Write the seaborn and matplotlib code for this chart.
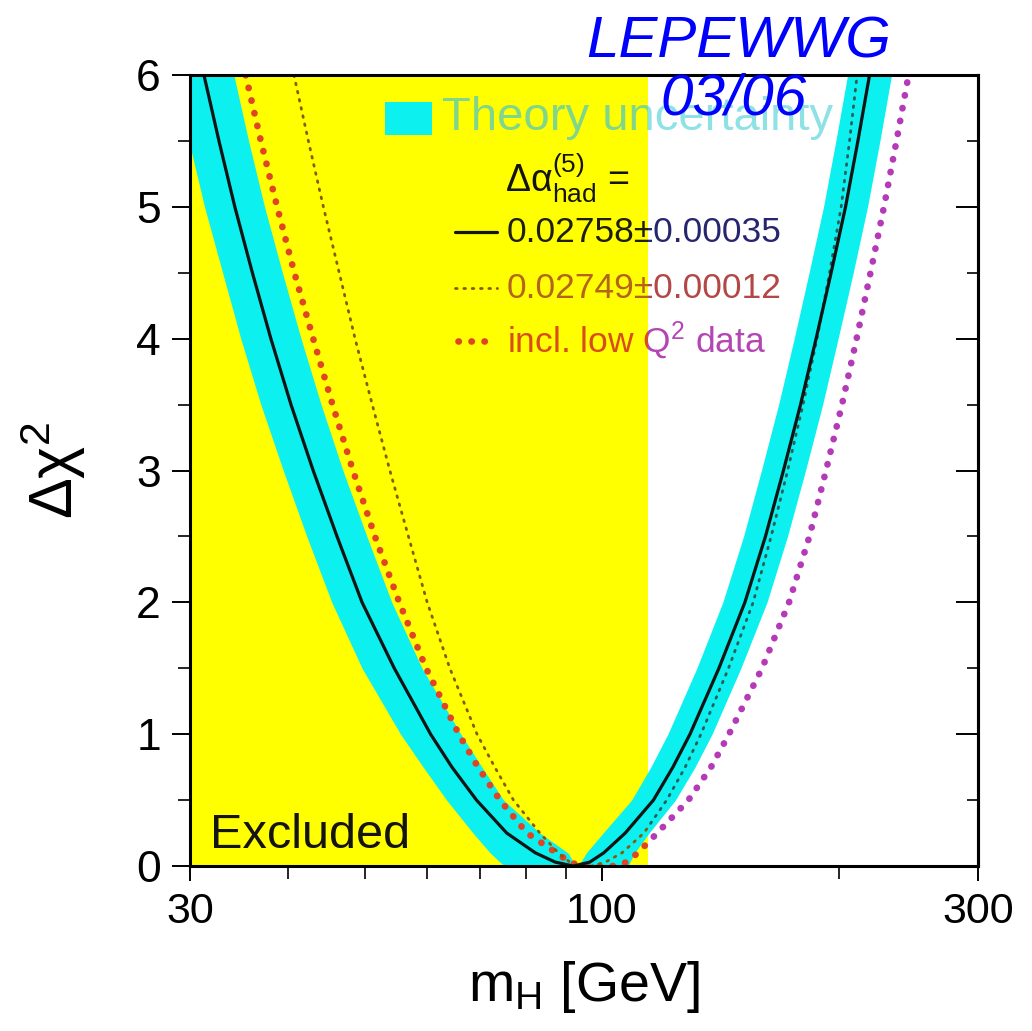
import matplotlib

matplotlib.use("Agg")
import matplotlib.pyplot as plt
import pandas as pd
import seaborn as sns
from matplotlib.patches import Rectangle
from matplotlib.ticker import FixedFormatter, FixedLocator, MultipleLocator, NullFormatter

chi2_levels = [0, 0.03, 0.1, 0.25, 0.5, 0.75, 1, 1.5, 2, 2.5, 3, 3.5, 4, 4.5, 5, 5.5, 6]

# m_H [GeV] at those levels: low-mass branch and high-mass branch
fit_left = [92, 87.2, 82.3, 75.7, 69.3, 64.5, 60.6, 54.5, 49.6, 46.1, 43.0, 40.3, 38.0,
            36.0, 34.2, 32.65, 31.25]
fit_right = [92, 96.5, 100.5, 107, 116.2, 123, 129.3, 140.7, 151.8, 161.2, 169.9, 178.6,
             186.9, 195.3, 203.7, 211.2, 218.5]

band_left_outer = [75.3, 74.2, 72.1, 68.6, 63.5, 59.3, 55.5, 49.6, 45.4, 42.2, 39.4, 36.9,
                   34.8, 33.0, 31.3, 29.9, 28.6]
band_left_inner = [93, 92, 90.5, 83.4, 75.0, 70.4, 66.2, 59.1, 54.1, 50.3, 46.9, 44.0,
                   41.5, 39.3, 37.3, 35.6, 34.1]
band_right_inner = [93, 94, 95.5, 100.3, 109.0, 115.3, 121.2, 131.9, 142.3, 151.2, 159.3,
                    167.5, 175.3, 183.1, 191.0, 198.0, 204.9]
band_right_outer = [108, 108.5, 110, 114.7, 123.9, 131.2, 137.9, 150.0, 161.9, 171.9, 181.2,
                    190.5, 199.3, 208.3, 217.2, 225.2, 233.0]

alt_left = [93, 91, 88, 83.4, 77.2, 73.1, 69.4, 64.1, 60.0, 56.8, 53.8, 51.1, 48.6, 46.4,
            44.3, 42.4, 40.65]
alt_right = [97, 101, 106, 113, 120.8, 127.5, 133.5, 144.7, 155.5, 163.9, 172.0, 179.9,
             187.4, 194.4, 201.1, 206.1, 210.7]

lowq2_left = [94, 91, 87.5, 80.3, 74.2, 69.6, 65.8, 59.8, 55.3, 51.5, 48.3, 45.5, 43.0,
              40.7, 38.7, 36.9, 35.3]
lowq2_right = [104, 107.5, 111, 117.5, 128.7, 137.5, 144.9, 159.6, 172.7, 183.3, 192.4,
               201.6, 210.4, 219.1, 227.9, 236.4, 244.9]

mh_excluded = 114.4
x_ticks = [30, 100, 300]
x_tick_labels = ["30", "100", "300"]
x_minor_ticks = [40, 50, 60, 70, 80, 90, 200]

legend_labels = ["0.02758\u00b10.00035", "0.02749\u00b10.00012", "incl. low Q$^2$ data"]

YELLOW = "#ffff00"
CYAN = "#0cf0f0"

sns.set_theme(style="white")
plt.rcParams["font.family"] = ["Liberation Sans", "DejaVu Sans"]
plt.rcParams["mathtext.fontset"] = "custom"
plt.rcParams["mathtext.rm"] = "Liberation Sans"
plt.rcParams["mathtext.it"] = "Liberation Sans:italic"
plt.rcParams["mathtext.bf"] = "Liberation Sans:bold"
plt.rcParams["axes.edgecolor"] = "black"
plt.rcParams["text.color"] = "black"
plt.rcParams["axes.labelcolor"] = "black"
plt.rcParams["xtick.color"] = "black"
plt.rcParams["ytick.color"] = "black"


def branch_frame(left, right):
    """Joins the two branches of one curve into a single path."""
    mh = list(reversed(left)) + list(right)
    chi2 = list(reversed(chi2_levels)) + list(chi2_levels)
    return pd.DataFrame({"mH": mh, "chi2": chi2})


fig = plt.figure(figsize=(10.32, 10.31), dpi=100)
ax = fig.add_axes([0.1841, 0.16, 0.7636, 0.7672])
ax.set_xscale("log")
ax.set_xlim(30, 300)
ax.set_ylim(0, 6)

# regions left and right of the exclusion limit (curves change tint there)
clip_excl = Rectangle((30, 0), mh_excluded - 30, 6, transform=ax.transData)
clip_open = Rectangle((mh_excluded, 0), 300 - mh_excluded, 6, transform=ax.transData)


def two_tone_line(df, colors, **kws):
    for color, clip in zip(colors, (clip_excl, clip_open)):
        n = len(ax.lines)
        sns.lineplot(data=df, x="mH", y="chi2", sort=False, estimator=None,
                     color=color, ax=ax, **kws)
        for line in ax.lines[n:]:
            line.set_clip_path(clip)


def two_tone_text(x, y, s, colors, **kws):
    for color, clip in zip(colors, (clip_excl, clip_open)):
        t = ax.text(x, y, s, color=color, transform=ax.transAxes, **kws)
        t.set_clip_path(clip)
        t.set_clip_on(True)


ax.axvspan(30, mh_excluded, color=YELLOW, lw=0, zorder=1)
ax.fill_betweenx(chi2_levels, band_left_outer, band_left_inner, color=CYAN, lw=0, zorder=2)
ax.fill_betweenx(chi2_levels, band_right_inner, band_right_outer, color=CYAN, lw=0, zorder=2)

two_tone_line(branch_frame(lowq2_left, lowq2_right), ["#e04424", "#b43ab8"],
              lw=4.8, linestyle=(0, (0.05, 1.9)), dash_capstyle="round", zorder=3)
two_tone_line(branch_frame(alt_left, alt_right), ["#8a5a04", "#2a5e58"],
              lw=2.0, linestyle=(0, (0.6, 2.4)), dash_capstyle="round", zorder=3.5)
sns.lineplot(data=branch_frame(fit_left, fit_right), x="mH", y="chi2", sort=False,
             estimator=None, color="#0c1414", lw=2.3, ax=ax, zorder=4)

# legend block
ax.add_patch(Rectangle((0.2475, 0.9241), 0.0596, 0.0418, transform=ax.transAxes,
                       color=CYAN, lw=0, zorder=5))
two_tone_text(0.3198, 0.9456, "Theory uncertainty", ["#80d68a", "#8ee2e6"],
              fontsize=34, va="center", zorder=5)
ax.text(0.3997, 0.852, "\u0394\u03b1$^{(5)}_{\\rm had}$ =", fontsize=27,
        transform=ax.transAxes, va="baseline", color="#141410", zorder=5)

key_y = [0.8015, 0.7307, 0.6637]
ax.plot([0.3363, 0.3896], [key_y[0]] * 2, transform=ax.transAxes,
        color="#141410", lw=2.3, zorder=5)
ax.plot([0.3363, 0.3896], [key_y[1]] * 2, transform=ax.transAxes, color="#8a5a04",
        lw=2.0, linestyle=(0, (0.6, 2.4)), dash_capstyle="round", zorder=5)
ax.plot([0.3400, 0.3870], [key_y[2]] * 2, transform=ax.transAxes, color="#e04424",
        lw=4.8, linestyle=(0, (0.05, 1.9)), dash_capstyle="round", zorder=5)
label_colors = [["#1e1e14", "#26266e"], ["#b4641e", "#b44646"], ["#d84c1e", "#b446b4"]]
for y, label, colors in zip(key_y, legend_labels, label_colors):
    two_tone_text(0.4023, y, label, colors, fontsize=25.5, va="center", zorder=5)

ax.text(0.0254, 0.0228, "Excluded", fontsize=35, transform=ax.transAxes,
        va="baseline", color="#141410", zorder=5)

# axes and ticks
ax.xaxis.set_major_locator(FixedLocator(x_ticks))
ax.xaxis.set_major_formatter(FixedFormatter(x_tick_labels))
ax.xaxis.set_minor_locator(FixedLocator(x_minor_ticks))
ax.xaxis.set_minor_formatter(NullFormatter())
ax.yaxis.set_major_locator(MultipleLocator(1))
ax.yaxis.set_minor_locator(MultipleLocator(0.5))
ax.tick_params(axis="x", which="major", direction="out", length=11, width=1.4,
               labelsize=31, pad=8, bottom=True)
ax.tick_params(axis="x", which="minor", direction="out", length=9, width=1.2, bottom=True)
ax.tick_params(axis="y", which="major", direction="out", length=13, width=1.4,
               labelsize=32, pad=8, left=True)
ax.tick_params(axis="y", which="minor", direction="out", length=8.5, width=1.2, left=True)

sec = ax.secondary_yaxis("right")
sec.yaxis.set_major_locator(MultipleLocator(1))
sec.yaxis.set_minor_locator(MultipleLocator(0.5))
sec.tick_params(which="major", direction="in", length=16, width=1.4, labelright=False)
sec.tick_params(which="minor", direction="in", length=8, width=1.2)
sec.spines["right"].set_linewidth(2.2)

for spine in ax.spines.values():
    spine.set_linewidth(2.2)
    spine.set_color("black")
    spine.set_zorder(6)

ax.set_xlabel("m$_{\\rm H}$ [GeV]", fontsize=40)
ax.set_ylabel("\u0394\u03c7$^2$", fontsize=44)
ax.xaxis.set_label_coords(0.5, -0.118)
ax.yaxis.set_label_coords(-0.13, 0.5)

fig.text(0.716, 0.9447, "LEPEWWG", color="#0000ff", fontsize=42, style="italic",
         ha="center", va="baseline")
fig.text(0.711, 0.8885, "03/06", color="#0000ff", fontsize=42, style="italic",
         ha="center", va="baseline")

fig.savefig("out.png", dpi=100, facecolor="white")
